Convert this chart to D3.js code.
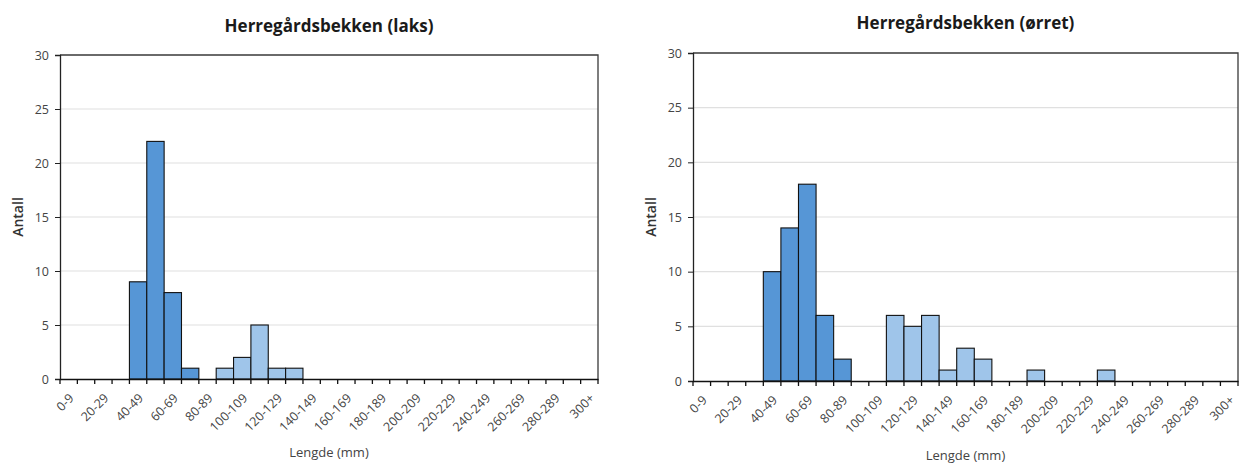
<!DOCTYPE html>
<html>
<head>
<meta charset="utf-8">
<script src="https://cdn.jsdelivr.net/npm/d3@7"></script>
<style>
  html, body { margin: 0; padding: 0; background: #ffffff; }
  svg { display: block; }
  text { font-family: "Open Sans", "Noto Sans", sans-serif; }
</style>
</head>
<body>
<svg id="chart" width="1239" height="464"></svg>
<script>
// ---- Data ----
const categories = ["0-9","10-19","20-29","30-39","40-49","50-59","60-69","70-79","80-89","90-99",
  "100-109","110-119","120-129","130-139","140-149","150-159","160-169","170-179","180-189","190-199",
  "200-209","210-219","220-229","230-239","240-249","250-259","260-269","270-279","280-289","290-299","300+"];
const yTicks = [0, 5, 10, 15, 20, 25, 30];

const laksTitle = "Herregårdsbekken (laks)";
const laksYoung = [0,0,0,0,9,22,8,1,0,0, 0,0,0,0,0,0,0,0,0,0, 0,0,0,0,0,0,0,0,0,0,0];
const laksOlder = [0,0,0,0,0,0,0,0,0,1, 2,5,1,1,0,0,0,0,0,0, 0,0,0,0,0,0,0,0,0,0,0];

const orretTitle = "Herregårdsbekken (ørret)";
const orretYoung = [0,0,0,0,10,14,18,6,2,0, 0,0,0,0,0,0,0,0,0,0, 0,0,0,0,0,0,0,0,0,0,0];
const orretOlder = [0,0,0,0,0,0,0,0,0,0, 0,6,5,6,1,3,2,0,0,1, 0,0,0,1,0,0,0,0,0,0,0];

const yTitle = "Antall";
const xTitle = "Lengde (mm)";

// ---- Styles ----
const darkBlue = "#5696d6";
const lightBlue = "#9fc5ea";

const svg = d3.select("#chart");

function drawChart(cfg) {
  const g = svg.append("g");
  const x = d3.scaleBand().domain(categories).range([cfg.left, cfg.right]).paddingInner(0).paddingOuter(0);
  const y = d3.scaleLinear().domain([0, 30]).range([cfg.bottom, cfg.top]);

  // gridlines
  g.append("g").selectAll("line").data(yTicks.filter(v => v > 0 && v < 30)).join("line")
    .attr("x1", cfg.left).attr("x2", cfg.right)
    .attr("y1", d => y(d)).attr("y2", d => y(d))
    .attr("stroke", "#e0e0e0").attr("stroke-width", 1.2);

  // plot border (top & right)
  g.append("path")
    .attr("d", `M${cfg.left},${y(30)}H${cfg.right}V${cfg.bottom}`)
    .attr("fill", "none").attr("stroke", "#3a3a3a").attr("stroke-width", 1.3);

  // bars
  const series = [ {vals: cfg.young, color: darkBlue}, {vals: cfg.older, color: lightBlue} ];
  series.forEach(s => {
    g.append("g").selectAll("rect")
      .data(categories.map((c, i) => ({c, v: s.vals[i]})).filter(d => d.v > 0))
      .join("rect")
      .attr("x", d => x(d.c)).attr("width", x.bandwidth())
      .attr("y", d => y(d.v)).attr("height", d => y(0) - y(d.v))
      .attr("fill", s.color).attr("stroke", "#111").attr("stroke-width", 1.1);
  });

  // y axis
  const yAxis = g.append("g").attr("transform", `translate(${cfg.left},0)`)
    .call(d3.axisLeft(y).tickValues(yTicks).tickSize(5).tickPadding(6));
  yAxis.select(".domain").attr("stroke", "#222").attr("stroke-width", 1.3);
  yAxis.selectAll(".tick line").attr("stroke", "#222");
  yAxis.selectAll(".tick text").attr("font-size", 12.5).attr("fill", "#444")
    .style("font-family", '"Open Sans", sans-serif');

  // x axis line + boundary ticks
  const xAxis = g.append("g").attr("transform", `translate(0,${cfg.bottom})`)
    .call(d3.axisBottom(x).tickSize(0).tickFormat(() => ""));
  xAxis.select(".domain").attr("stroke", "#111").attr("stroke-width", 1.6);
  xAxis.selectAll(".tick").remove();
  const bounds = categories.map(c => x(c)).concat([cfg.right]);
  g.append("g").selectAll("line").data(bounds).join("line")
    .attr("x1", d => d).attr("x2", d => d)
    .attr("y1", cfg.bottom).attr("y2", cfg.bottom + 5)
    .attr("stroke", "#111").attr("stroke-width", 1.3);

  // x labels (every other category)
  g.append("g").selectAll("text")
    .data(categories.filter((c, i) => i % 2 === 0))
    .join("text")
    .attr("transform", d => `translate(${x(d) + x.bandwidth() / 2 + 6},${cfg.bottom + 20}) rotate(-45)`)
    .attr("text-anchor", "end")
    .attr("font-size", 12.5).attr("fill", "#444")
    .text(d => d);

  // titles
  g.append("text").attr("x", (cfg.left + cfg.right) / 2).attr("y", cfg.titleY)
    .attr("text-anchor", "middle").attr("font-size", 17).attr("font-weight", "bold")
    .attr("fill", "#1a1a1a").text(cfg.title);

  g.append("text")
    .attr("transform", `translate(${cfg.yTitleX},${(cfg.top + cfg.bottom) / 2}) rotate(-90)`)
    .attr("text-anchor", "middle").attr("font-size", 14).attr("font-weight", 600).attr("fill", "#333")
    .text(yTitle);

  g.append("text").attr("x", (cfg.left + cfg.right) / 2).attr("y", cfg.xTitleY)
    .attr("text-anchor", "middle").attr("font-size", 13).attr("fill", "#444")
    .text(xTitle);
}

drawChart({ left: 60, right: 598, top: 55, bottom: 379, title: laksTitle, titleY: 32,
  young: laksYoung, older: laksOlder, yTitleX: 23, xTitleY: 457 });
drawChart({ left: 693, right: 1238, top: 53, bottom: 381, title: orretTitle, titleY: 29,
  young: orretYoung, older: orretOlder, yTitleX: 656, xTitleY: 460 });
</script>
</body>
</html>
